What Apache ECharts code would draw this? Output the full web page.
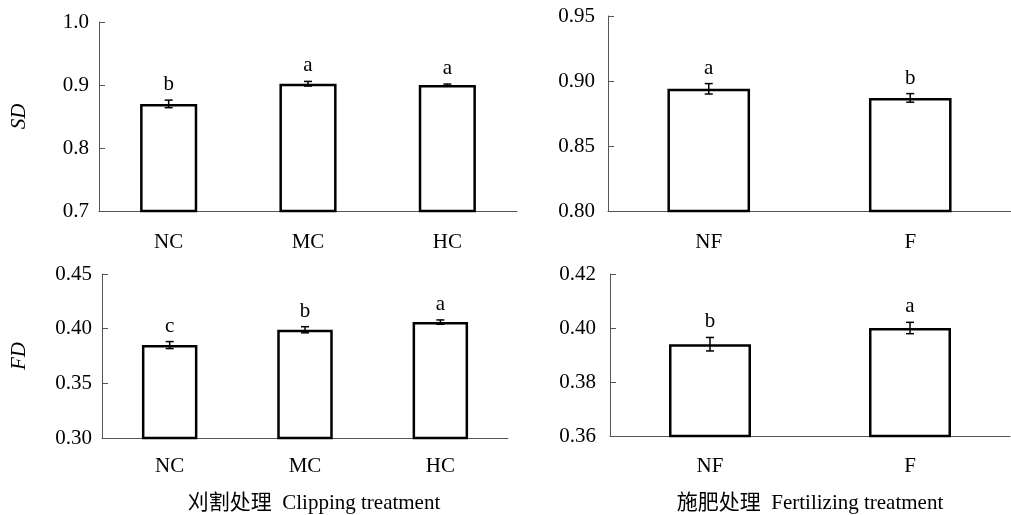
<!DOCTYPE html>
<html>
<head>
    <meta charset="utf-8"/>
    <title>SD FD</title>
    <script src="https://cdn.jsdelivr.net/npm/echarts@6/dist/echarts.min.js"></script>
    <style>
        html, body { margin: 0; padding: 0; background: #fff; }
        #main { width: 1011px; height: 515px; }
    </style>
</head>
<body>
<div id="main"></div>
<script>
    // 数据
    var clipCats = ['NC', 'MC', 'HC'];
    var fertCats = ['NF', 'F'];

    var sdClip = [0.870, 0.902, 0.900];
    var sdClipErr = [0.006, 0.0037, 0.0015];
    var sdClipSig = ['b', 'a', 'a'];

    var sdFert = [0.894, 0.887];
    var sdFertErr = [0.004, 0.0033];
    var sdFertSig = ['a', 'b'];

    var fdClip = [0.385, 0.399, 0.406];
    var fdClipErr = [0.0032, 0.0028, 0.002];
    var fdClipSig = ['c', 'b', 'a'];

    var fdFert = [0.394, 0.400];
    var fdFertErr = [0.0025, 0.0021];
    var fdFertSig = ['b', 'a'];

    // y轴刻度
    var yTicks = [
        {min: 0.7, max: 1.0, interval: 0.1, digits: 1},
        {min: 0.80, max: 0.95, interval: 0.05, digits: 2},
        {min: 0.30, max: 0.45, interval: 0.05, digits: 2},
        {min: 0.36, max: 0.42, interval: 0.02, digits: 2}
    ];

    var FONT = '"Liberation Serif", "Times New Roman", "Noto Sans CJK SC", serif';
    var AXIS_COLOR = '#555';

    var grids = [
        {left: 99, top: 22, width: 418, height: 189},
        {left: 608, top: 16, width: 403, height: 195},
        {left: 102, top: 274, width: 406, height: 164},
        {left: 610, top: 274, width: 400, height: 162}
    ];

    function makeX(i, cats, margin) {
        return {
            type: 'category', gridIndex: i, data: cats,
            axisLine: {lineStyle: {color: AXIS_COLOR, width: 1}},
            axisTick: {inside: true, length: 10, lineStyle: {color: AXIS_COLOR}},
            axisLabel: {color: '#000', fontSize: 21, fontFamily: FONT, margin: margin}
        };
    }

    function makeY(i, name, gap, margin) {
        var t = yTicks[i];
        return {
            type: 'value', gridIndex: i, min: t.min, max: t.max, interval: t.interval,
            name: name, nameLocation: 'middle', nameGap: gap, nameRotate: 90,
            nameTextStyle: {fontSize: 21, fontStyle: 'italic', fontFamily: FONT, color: '#000'},
            axisLine: {show: true, lineStyle: {color: AXIS_COLOR, width: 1}},
            axisTick: {show: true, inside: true, length: 6, lineStyle: {color: AXIS_COLOR}},
            splitLine: {show: false},
            axisLabel: {
                color: '#000', fontSize: 21, fontFamily: FONT, margin: margin,
                formatter: function (v) { return v.toFixed(t.digits); }
            }
        };
    }

    function barSeries(i, vals) {
        return {
            type: 'bar', xAxisIndex: i, yAxisIndex: i, data: vals, barWidth: '41%',
            itemStyle: {color: '#fff', borderColor: '#000', borderWidth: 2.5},
            silent: true
        };
    }

    // 误差线 + 显著性字母
    function errSeries(i, vals, errs, sig) {
        var data = [];
        for (var k = 0; k < vals.length; k++) {
            data.push([k, vals[k], errs[k], sig[k]]);
        }
        return {
            type: 'custom', xAxisIndex: i, yAxisIndex: i, data: data, z: 5, silent: true,
            renderItem: function (params, api) {
                var x = api.value(0);
                var v = api.value(1);
                var e = api.value(2);
                var s = data[params.dataIndex][3];
                var hi = api.coord([x, v + e]);
                var lo = api.coord([x, v - e]);
                var cap = 4;
                var style = {stroke: '#000', lineWidth: 1.5};
                return {
                    type: 'group',
                    children: [
                        {type: 'line', shape: {x1: hi[0], y1: hi[1], x2: lo[0], y2: lo[1]}, style: style},
                        {type: 'line', shape: {x1: hi[0] - cap, y1: hi[1], x2: hi[0] + cap, y2: hi[1]}, style: style},
                        {type: 'line', shape: {x1: lo[0] - cap, y1: lo[1], x2: lo[0] + cap, y2: lo[1]}, style: style},
                        {type: 'text', x: hi[0], y: hi[1] - 5,
                            style: {text: s, fill: '#000', font: '21px ' + FONT, align: 'center', verticalAlign: 'bottom'}}
                    ]
                };
            }
        };
    }

    var chart = echarts.init(document.getElementById('main'));
    var option = {
        animation: false,
        backgroundColor: '#fff',
        grid: grids,
        title: [
            {text: '刈割处理  Clipping treatment', left: 309, top: 488, textAlign: 'center',
                textStyle: {fontSize: 21, fontWeight: 'normal', fontFamily: FONT, color: '#000'}},
            {text: '施肥处理  Fertilizing treatment', left: 805, top: 488, textAlign: 'center',
                textStyle: {fontSize: 21, fontWeight: 'normal', fontFamily: FONT, color: '#000'}}
        ],
        xAxis: [
            makeX(0, clipCats, 21),
            makeX(1, fertCats, 21),
            makeX(2, clipCats, 18),
            makeX(3, fertCats, 20)
        ],
        yAxis: [
            makeY(0, 'SD', 69, 10),
            makeY(1, '', 0, 13),
            makeY(2, 'FD', 72, 10),
            makeY(3, '', 0, 14)
        ],
        series: [
            barSeries(0, sdClip), errSeries(0, sdClip, sdClipErr, sdClipSig),
            barSeries(1, sdFert), errSeries(1, sdFert, sdFertErr, sdFertSig),
            barSeries(2, fdClip), errSeries(2, fdClip, fdClipErr, fdClipSig),
            barSeries(3, fdFert), errSeries(3, fdFert, fdFertErr, fdFertSig)
        ]
    };
    chart.setOption(option);

    window.onresize = function () {
        chart.resize();
    };
</script>
</body>
</html>
